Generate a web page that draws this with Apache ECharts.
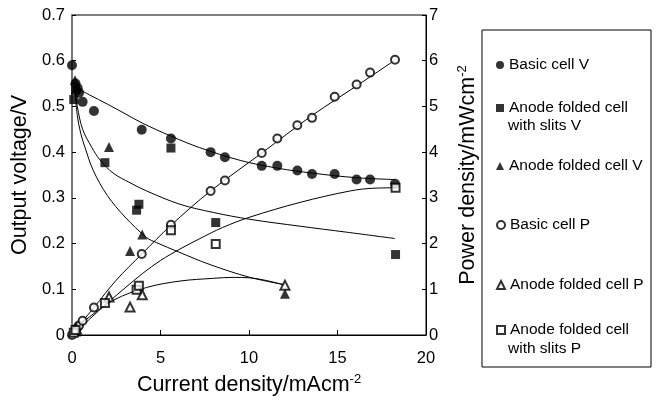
<!DOCTYPE html>
<html>
<head>
<meta charset="utf-8">
<script src="https://cdn.jsdelivr.net/npm/echarts@6/dist/echarts.min.js"></script>
<style>
  html, body { margin: 0; padding: 0; background: #fff; }
  #main { width: 658px; height: 401px; }
</style>
</head>
<body>
<div id="main"></div>
<script>
// measured points (current density mA/cm2, voltage V, power mW/cm2)
const basicI = [0, 0.2, 0.32, 0.4, 0.6, 1.24, 3.94, 5.59, 7.83, 8.64, 10.72, 11.6, 12.73, 13.56, 14.84, 16.08, 16.84, 18.25];
const basicV = [0.59, 0.55, 0.54, 0.53, 0.51, 0.49, 0.449, 0.43, 0.40, 0.389, 0.37, 0.37, 0.36, 0.352, 0.352, 0.34, 0.34, 0.331];
const basicP = [0, 0.11, 0.17, 0.21, 0.31, 0.60, 1.77, 2.41, 3.15, 3.38, 3.98, 4.30, 4.59, 4.75, 5.21, 5.48, 5.74, 6.02];

const slitsI = [0.1, 0.2, 1.86, 3.65, 3.78, 5.59, 8.12, 18.28];
const slitsV = [0.515, 0.535, 0.377, 0.273, 0.286, 0.409, 0.246, 0.176];
const slitsP = [0.05, 0.11, 0.70, 0.99, 1.08, 2.29, 1.99, 3.22];

const foldI = [0.17, 0.25, 2.09, 3.28, 3.97, 12.03];
const foldV = [0.557, 0.54, 0.411, 0.184, 0.22, 0.09];
const foldP = [0.09, 0.13, 0.83, 0.61, 0.88, 1.09];

// fitted curves
const basicVFitI = [0.2, 1, 2, 3, 4, 5.6, 7.2, 9.5, 11.6, 13.6, 16.1, 18.25];
const basicVFitV = [0.542, 0.525, 0.505, 0.484, 0.463, 0.435, 0.41, 0.382, 0.365, 0.354, 0.344, 0.34];
const slitsVFitI = [0.15, 0.3, 0.6, 1.11, 1.58, 2.33, 3.28, 4.22, 6.1, 7.99, 10.06, 12.88, 15.5, 18.25];
const slitsVFitV = [0.54, 0.5, 0.45, 0.411, 0.383, 0.354, 0.333, 0.315, 0.286, 0.268, 0.253, 0.238, 0.225, 0.211];
const foldVFitI = [0.15, 0.3, 0.5, 0.73, 1.2, 2, 3, 4.22, 4.78, 6, 7.8, 10.06, 12.03];
const foldVFitV = [0.54, 0.48, 0.44, 0.411, 0.36, 0.305, 0.258, 0.213, 0.202, 0.182, 0.154, 0.126, 0.11];
const basicPFitI = [0, 0.6, 1.24, 2.5, 3.94, 5.59, 7.83, 10.72, 13.56, 16.08, 18.2];
const basicPFitP = [0, 0.3, 0.6, 1.2, 1.77, 2.4, 3.15, 3.98, 4.8, 5.45, 6.0];
const slitsPFitI = [0, 0.5, 1, 2, 3, 4, 5, 6.1, 7.23, 8.5, 10.06, 12.88, 15.7, 17, 18.25];
const slitsPFitP = [0, 0.17, 0.35, 0.7, 1.03, 1.35, 1.63, 1.88, 2.11, 2.35, 2.58, 2.9, 3.15, 3.21, 3.22];
const foldPFitI = [0, 0.45, 1, 2.33, 4.22, 6.1, 7.99, 9.1, 10.06, 11, 12.03];
const foldPFitP = [0, 0.22, 0.4, 0.76, 1.04, 1.18, 1.24, 1.26, 1.25, 1.19, 1.09];

const voltTicks = [0, 0.1, 0.2, 0.3, 0.4, 0.5, 0.6, 0.7];

const FONT = "Liberation Sans";
const pairs = (xs, ys) => xs.map((x, i) => [x, ys[i]]);

function scatter(name, symbol, size, xs, ys, axis) {
  return {
    name: name, type: "scatter", yAxisIndex: axis,
    symbol: symbol, symbolSize: size,
    itemStyle: { color: "#000", borderColor: "#000", borderWidth: symbol.indexOf("empty") === 0 ? 1.5 : 0 },
    data: pairs(xs, ys), z: 5
  };
}
function fit(xs, ys, axis) {
  return {
    type: "line", yAxisIndex: axis, showSymbol: false, symbol: "none", smooth: 0.35,
    lineStyle: { color: "#000", width: 1 }, data: pairs(xs, ys), z: 3, silent: true
  };
}

function legendAt(name, top) {
  return {
    data: [name], left: 491, top: top, orient: "vertical",
    itemWidth: 8, itemHeight: 8, selectedMode: false,
    formatter: n => n.split("\n")[0],
    textStyle: { fontFamily: FONT, fontSize: 15.5, color: "#000", lineHeight: 18 }
  };
}

const sup = { fontSize: 13, verticalAlign: "bottom", padding: [0, 0, 11, 0], fontFamily: FONT };

const chart = echarts.init(document.getElementById("main"));
chart.setOption({
  animation: false,
  backgroundColor: "#fff",
  grid: { left: 72, right: 232, top: 15, bottom: 59, show: true, borderColor: "#000", borderWidth: 1 },
  legend: [
    legendAt("Basic cell V", 51),
    legendAt("Anode folded cell\nwith slits V", 94),
    legendAt("Anode folded cell V", 152),
    legendAt("Basic cell P", 211),
    legendAt("Anode folded cell P", 271),
    legendAt("Anode folded cell\nwith slits P", 316)
  ],
  graphic: [
    { type: "rect", shape: { x: 482, y: 30, width: 169, height: 337 }, style: { fill: "none", stroke: "#000", lineWidth: 1 } },
    { type: "text", x: 508, y: 126, style: { text: "with slits V", fontFamily: FONT, fontSize: 15.5, fill: "#000", verticalAlign: "middle" } },
    { type: "text", x: 508, y: 349, style: { text: "with slits P", fontFamily: FONT, fontSize: 15.5, fill: "#000", verticalAlign: "middle" } }
  ],
  xAxis: {
    type: "value", min: 0, max: 20, interval: 5,
    axisLine: { lineStyle: { color: "#000", width: 1 } },
    axisTick: { inside: true, length: 5, lineStyle: { color: "#000" } },
    splitLine: { show: false },
    axisLabel: { fontFamily: FONT, fontSize: 16.5, color: "#000", margin: 15 },
    name: "Current density/mAcm{s|-2}", nameLocation: "middle", nameGap: 38,
    nameTextStyle: { fontFamily: FONT, fontSize: 21.5, color: "#000", rich: { s: sup } }
  },
  yAxis: [
    {
      type: "value", min: 0, max: 0.7, interval: 0.1,
      axisLine: { lineStyle: { color: "#777", width: 2 } },
      axisTick: { inside: true, length: 4, lineStyle: { color: "#000" } },
      splitLine: { show: false },
      axisLabel: { fontFamily: FONT, fontSize: 16.5, color: "#000", margin: 7,
        formatter: v => (v === 0 ? "0" : voltTicks.find(t => Math.abs(t - v) < 1e-6).toFixed(1)) },
      name: "Output voltage/V", nameLocation: "middle", nameGap: 37, nameRotate: 90,
      nameTextStyle: { fontFamily: FONT, fontSize: 21.5, color: "#000" }
    },
    {
      type: "value", position: "right", min: 0, max: 7, interval: 1,
      axisLine: { lineStyle: { color: "#000", width: 1 } },
      axisTick: { inside: true, length: 4, lineStyle: { color: "#000" } },
      splitLine: { show: false },
      axisLabel: { fontFamily: FONT, fontSize: 16.5, color: "#000", margin: 3 },
      name: "Power density/mWcm{s|-2}", nameLocation: "middle", nameGap: 30, nameRotate: 90,
      nameTextStyle: { fontFamily: FONT, fontSize: 21.5, color: "#000", rich: { s: sup } }
    }
  ],
  series: [
    fit(basicVFitI, basicVFitV, 0),
    fit(slitsVFitI, slitsVFitV, 0),
    fit(foldVFitI, foldVFitV, 0),
    fit(basicPFitI, basicPFitP, 1),
    fit(slitsPFitI, slitsPFitP, 1),
    fit(foldPFitI, foldPFitP, 1),
    scatter("Basic cell V", "circle", 10, basicI, basicV, 0),
    scatter("Anode folded cell\nwith slits V", "rect", 9, slitsI, slitsV, 0),
    scatter("Anode folded cell V", "triangle", 10, foldI, foldV, 0),
    scatter("Basic cell P", "emptyCircle", 8, basicI, basicP, 1),
    scatter("Anode folded cell P", "emptyTriangle", 9, foldI, foldP, 1),
    scatter("Anode folded cell\nwith slits P", "emptyRect", 8, slitsI, slitsP, 1)
  ]
});
</script>
</body>
</html>
